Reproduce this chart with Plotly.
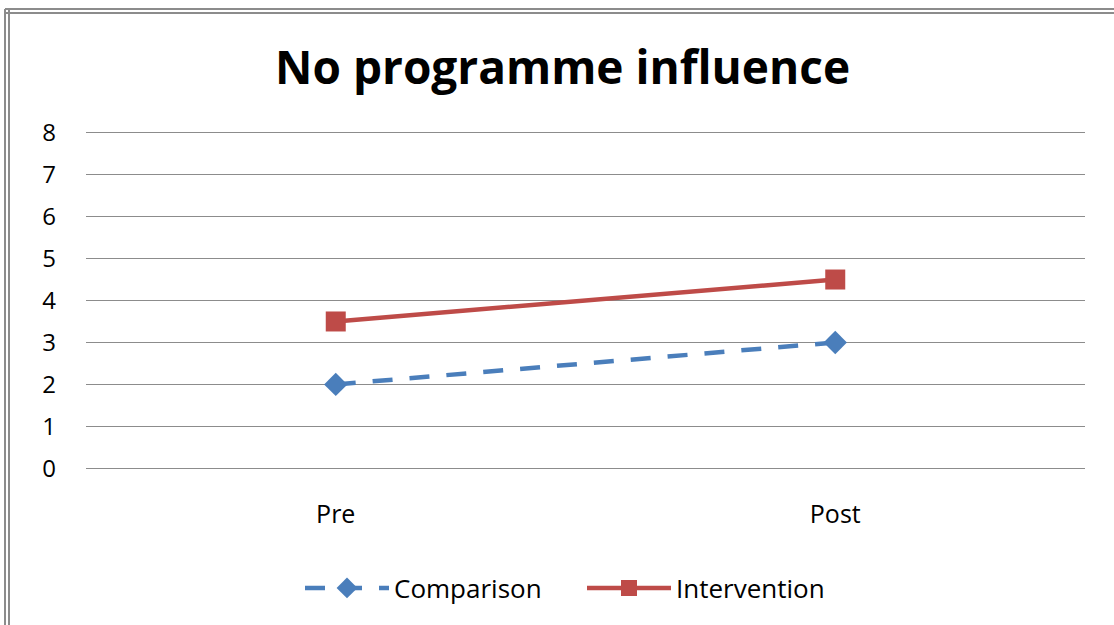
import plotly.graph_objects as go

categories = ["Pre", "Post"]
comparison = [2, 3]
intervention = [3.5, 4.5]
y_ticks = [0, 1, 2, 3, 4, 5, 6, 7, 8]

W, H = 1114, 625
L, R, T, B = 86, 29, 131, 155
pw, ph = W - L - R, H - T - B

def px_x(x):
    return (x - L) / pw

def px_y(y):
    return (H - B - y) / ph

FONT = "Open Sans, Lato, sans-serif"

fig = go.Figure()
fig.add_trace(go.Scatter(
    x=categories, y=comparison, name="Comparison", mode="lines+markers",
    line=dict(color="#4A7EBB", width=4.5, dash="20px,17px"),
    marker=dict(symbol="diamond", size=18, color="#4A7EBB"),
))
fig.add_trace(go.Scatter(
    x=categories, y=intervention, name="Intervention", mode="lines+markers",
    line=dict(color="#BE4B48", width=4.5),
    marker=dict(symbol="square", size=20, color="#BE4B48"),
))

shapes = []
for xv in (5, 9):
    shapes.append(dict(type="line", xref="paper", yref="paper",
                       x0=px_x(xv), x1=px_x(xv), y0=px_y(9), y1=px_y(H + 5),
                       line=dict(color="#8C8C8C", width=2)))
for yv in (9, 13):
    shapes.append(dict(type="line", xref="paper", yref="paper",
                       x0=px_x(5), x1=px_x(W + 5), y0=px_y(yv), y1=px_y(yv),
                       line=dict(color="#8C8C8C", width=2)))

fig.update_layout(
    width=W, height=H,
    margin=dict(l=L, r=R, t=T, b=B),
    paper_bgcolor="white", plot_bgcolor="white",
    font=dict(family=FONT, color="#000000", size=24),
    title=dict(text="<b>No programme influence</b>", x=0.505, xanchor="center",
               y=1 - 68 / H, yanchor="middle",
               font=dict(size=46, family=FONT, color="#000000")),
    xaxis=dict(type="category", range=[-0.5, 1.5], showgrid=False, zeroline=False,
               showline=False, ticks="", ticklabelstandoff=27,
               tickfont=dict(size=25)),
    yaxis=dict(range=[-0.04, 8.04], tickvals=y_ticks, showgrid=True, gridcolor="#8C8C8C",
               gridwidth=1, zeroline=False, showline=False, ticks="",
               ticklabelstandoff=29, tickfont=dict(size=24)),
    legend=dict(orientation="h", x=px_x(300), xanchor="left", y=px_y(588),
                yanchor="middle", font=dict(size=26), itemwidth=84,
                entrywidth=183, entrywidthmode="pixels",
                tracegroupgap=0),
    showlegend=True,
    shapes=shapes,
)

fig.write_html("out.html", post_script="document.body.style.margin='0';",
               config={"displayModeBar": False})
